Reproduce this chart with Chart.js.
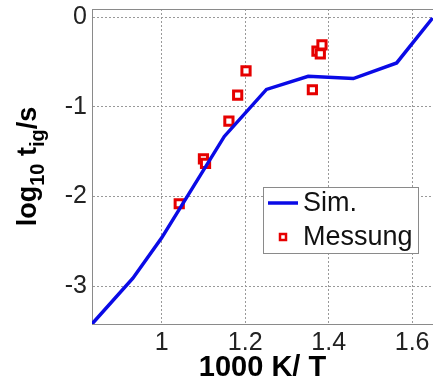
<!DOCTYPE html>
<html>
<head>
<meta charset="utf-8">
<script src="https://cdn.jsdelivr.net/npm/chart.js@4/dist/chart.umd.min.js"></script>
<style>
  html, body { margin: 0; padding: 0; background: #fff; }
  canvas { display: block; }
</style>
</head>
<body>
<canvas id="igChart" width="433" height="385"></canvas>
<script>
// simulation curve (1000 K / T vs. log10 t_ig)
const simX = [0.833, 0.931, 1.0, 1.15, 1.251, 1.351, 1.459, 1.563, 1.649];
const simY = [-3.42, -2.91, -2.46, -1.33, -0.806, -0.659, -0.685, -0.511, -0.01];

// measured points
const measX = [1.042, 1.100, 1.105, 1.161, 1.182, 1.202, 1.361, 1.372, 1.380, 1.384];
const measY = [-2.08, -1.58, -1.63, -1.16, -0.87, -0.60, -0.81, -0.38, -0.41, -0.31];

const xTicks = [1, 1.2, 1.4, 1.6];
const yTicks = [0, -1, -2, -3];

const seriesNames = ["Sim.", "Messung"];

const blue = '#0a0ae6';
const red = '#e60000';
const fontFam = '"Liberation Sans", Arial, Helvetica, sans-serif';

const toPoints = (xs, ys) => xs.map((x, i) => ({ x: x, y: ys[i] }));

// top frame line (matlab style box)
const topFrame = {
  id: 'topFrame',
  afterDraw(chart) {
    const { ctx, chartArea } = chart;
    ctx.save();
    ctx.strokeStyle = '#8a8a8a';
    ctx.lineWidth = 1;
    ctx.beginPath();
    ctx.moveTo(chartArea.left, chartArea.top + 0.5);
    ctx.lineTo(chartArea.right, chartArea.top + 0.5);
    ctx.stroke();
    ctx.restore();
  }
};

// y axis title with subscripts: log10 t_ig /s
const yTitle = {
  id: 'yTitle',
  afterDraw(chart) {
    const { ctx, chartArea } = chart;
    const parts = [
      { t: 'log', sub: false },
      { t: '10', sub: true },
      { t: ' t', sub: false },
      { t: 'ig', sub: true },
      { t: '/s', sub: false },
    ];
    const mainFont = 'bold 27px ' + fontFam;
    const subFont = 'bold 20px ' + fontFam;
    ctx.save();
    let total = 0;
    parts.forEach(p => {
      ctx.font = p.sub ? subFont : mainFont;
      p.w = ctx.measureText(p.t).width;
      total += p.w;
    });
    const cy = (chartArea.top + chartArea.bottom) / 2;
    ctx.translate(36, cy);
    ctx.rotate(-Math.PI / 2);
    ctx.fillStyle = '#000';
    ctx.textBaseline = 'alphabetic';
    ctx.textAlign = 'left';
    let x = -total / 2;
    parts.forEach(p => {
      ctx.font = p.sub ? subFont : mainFont;
      ctx.fillText(p.t, x, p.sub ? 8 : 0);
      x += p.w;
    });
    ctx.restore();
  }
};

// boxed legend inside the plot
const boxLegend = {
  id: 'boxLegend',
  afterDraw(chart) {
    const { ctx } = chart;
    const bx = 263, by = 187, bw = 155, bh = 66;
    ctx.save();
    ctx.fillStyle = '#fff';
    ctx.fillRect(bx, by, bw, bh);
    ctx.strokeStyle = '#8a8a8a';
    ctx.lineWidth = 1;
    ctx.strokeRect(bx + 0.5, by + 0.5, bw, bh);

    ctx.strokeStyle = blue;
    ctx.lineWidth = 3.5;
    ctx.beginPath();
    ctx.moveTo(268, 203);
    ctx.lineTo(298, 203);
    ctx.stroke();

    ctx.strokeStyle = red;
    ctx.lineWidth = 2.5;
    ctx.strokeRect(280, 234, 6, 6);

    ctx.fillStyle = '#111';
    ctx.font = '27px ' + fontFam;
    ctx.textBaseline = 'middle';
    ctx.fillText(seriesNames[0], 303, 204);
    ctx.fillText(seriesNames[1], 303, 238);
    ctx.restore();
  }
};

new Chart(document.getElementById('igChart'), {
  type: 'scatter',
  data: {
    datasets: [
      {
        label: seriesNames[0],
        data: toPoints(simX, simY),
        showLine: true,
        borderColor: blue,
        borderWidth: 3.5,
        pointRadius: 0,
        tension: 0,
      },
      {
        label: seriesNames[1],
        data: toPoints(measX, measY),
        showLine: false,
        pointStyle: 'rect',
        pointRadius: 5.8,
        borderColor: red,
        borderWidth: 3,
        backgroundColor: '#fff',
      },
    ],
  },
  options: {
    responsive: false,
    animation: false,
    devicePixelRatio: 1,
    layout: { autoPadding: false, padding: { top: 9, right: 0, left: 0, bottom: 0 } },
    plugins: {
      legend: { display: false },
      tooltip: { enabled: false },
    },
    scales: {
      x: {
        type: 'linear',
        min: 0.833,
        max: 1.65,
        afterBuildTicks: (scale) => { scale.ticks = xTicks.map(v => ({ value: v })); },
        afterFit: (scale) => {
          scale.height = 61;
          scale.paddingLeft = 0;
          scale.paddingRight = 0;
        },
        ticks: {
          color: '#222',
          font: { size: 25, family: fontFam },
          padding: 4,
          maxRotation: 0,
          callback: (v) => String(v),
        },
        grid: { color: '#999', lineWidth: 1, drawTicks: false },
        border: { display: true, color: '#8a8a8a', width: 1, dash: [2, 2] },
        title: {
          display: true,
          text: '1000 K/ T',
          color: '#000',
          font: { size: 29, weight: 'bold', family: fontFam },
          padding: { top: 0, bottom: 0 },
        },
      },
      y: {
        type: 'linear',
        min: -3.42,
        max: 0.09,
        afterBuildTicks: (scale) => { scale.ticks = yTicks.map(v => ({ value: v })); },
        afterFit: (scale) => {
          scale.width = 92;
          scale.paddingTop = 0;
          scale.paddingBottom = 0;
        },
        ticks: {
          color: '#222',
          font: { size: 25, family: fontFam },
          padding: 5,
          callback: (v) => String(v),
        },
        grid: { color: '#999', lineWidth: 1, drawTicks: false },
        border: { display: true, color: '#8a8a8a', width: 1, dash: [2, 2] },
      },
    },
  },
  plugins: [topFrame, yTitle, boxLegend],
});
</script>
</body>
</html>
